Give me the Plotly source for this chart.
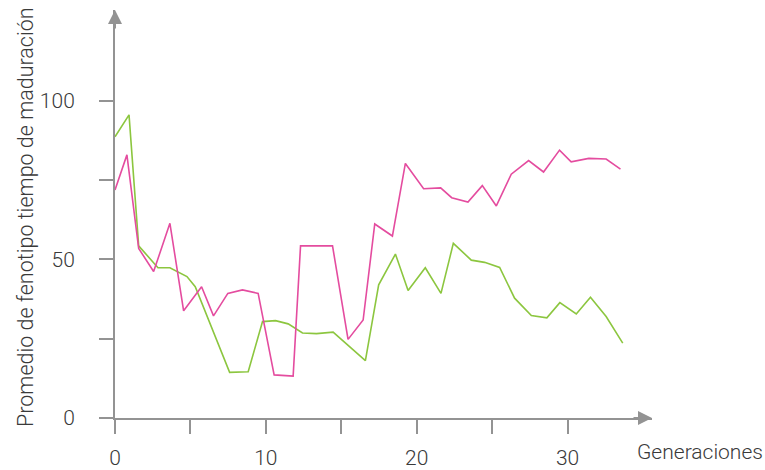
import plotly.graph_objects as go

# generaciones / promedio de fenotipo
gen_rosa = [0, 0.79, 1.57, 2.56, 3.64, 4.55, 5.74, 6.53, 7.48, 8.45, 9.49, 10.55, 11.81,
            12.3, 14.42, 15.45, 16.45, 17.22, 18.39, 19.25, 20.46, 21.59, 22.32, 23.4,
            24.35, 25.28, 26.27, 27.42, 28.41, 29.47, 30.24, 31.41, 32.56, 33.51]
val_rosa = [71.9, 83.0, 53.5, 46.2, 61.4, 33.8, 41.4, 32.2, 39.3, 40.4, 39.3, 13.6, 13.2,
            54.3, 54.3, 24.8, 30.9, 61.2, 57.4, 80.3, 72.3, 72.6, 69.5, 68.1,
            73.3, 66.9, 76.9, 81.2, 77.6, 84.5, 80.8, 81.9, 81.7, 78.5]

gen_verde = [0, 0.93, 1.57, 2.85, 3.64, 4.77, 5.32, 7.6, 8.83, 9.78, 10.64, 11.48, 12.43,
             13.36, 14.46, 16.6, 17.48, 18.59, 19.43, 20.57, 21.61, 22.43, 23.62, 24.5,
             25.5, 26.49, 27.6, 28.63, 29.49, 30.58, 31.52, 32.56, 33.66]
val_verde = [88.7, 95.6, 54.3, 47.4, 47.4, 44.6, 41.4, 14.4, 14.6, 30.4, 30.7, 29.7, 26.8,
             26.6, 27.1, 18.1, 42.0, 51.7, 40.2, 47.4, 39.3, 55.1, 49.8, 49.1,
             47.5, 37.8, 32.3, 31.6, 36.4, 32.8, 38.1, 32.0, 23.6]

x_ticks = [0, 5, 10, 15, 20, 25, 30]
x_labels = ["0", "", "10", "", "20", "", "30"]
y_ticks = [0, 25, 50, 75, 100]
y_labels = ["0", "", "50", "", "100"]

FONT = "Roboto, sans-serif"
GRIS = "#939393"
xmax, ymax = 35.6, 128.7

fig = go.Figure()
fig.add_trace(go.Scatter(x=gen_verde, y=val_verde, mode="lines",
                         line=dict(color="#8cc63f", width=1.6)))
fig.add_trace(go.Scatter(x=gen_rosa, y=val_rosa, mode="lines",
                         line=dict(color="#e44c9f", width=1.6)))

fig.update_layout(
    width=765, height=470,
    margin=dict(l=115, r=113, t=10, b=52),
    plot_bgcolor="white", paper_bgcolor="white",
    showlegend=False,
    font=dict(family=FONT, size=21, color="#3a3a3a", weight=300),
)
fig.update_xaxes(range=[0, xmax], showgrid=False, zeroline=False, automargin=False,
                 showline=True, linecolor=GRIS, linewidth=2,
                 tickmode="array", tickvals=x_ticks, ticktext=x_labels,
                 ticks="outside", ticklen=14, tickwidth=2, tickcolor=GRIS,
                 ticklabelstandoff=6)
fig.update_yaxes(range=[0, ymax], showgrid=False, zeroline=False, automargin=False,
                 showline=True, linecolor=GRIS, linewidth=2,
                 tickmode="array", tickvals=y_ticks, ticktext=y_labels,
                 ticks="outside", ticklen=14, tickwidth=2, tickcolor=GRIS,
                 ticklabelstandoff=20)

# arrow heads on the axes
fig.add_annotation(x=xmax, y=0, xref="x", yref="y", ax=-20, ay=0, text="",
                   showarrow=True, arrowhead=2, arrowsize=1.4, arrowwidth=2,
                   arrowcolor=GRIS, standoff=0)
fig.add_annotation(x=0, y=ymax, xref="x", yref="y", ax=0, ay=20, text="",
                   showarrow=True, arrowhead=2, arrowsize=1.4, arrowwidth=2,
                   arrowcolor=GRIS, standoff=0)

fig.add_annotation(text="Promedio de fenotipo tiempo de maduración", textangle=-90,
                   xref="x domain", yref="y domain", x=(25 - 115) / 537, y=(418 - 217) / 408,
                   xanchor="center", yanchor="middle", showarrow=False, font=dict(size=21.5))
fig.add_annotation(text="Generaciones", xref="x domain", yref="y domain",
                   x=(700 - 115) / 537, y=(418 - 452) / 408, xanchor="center", yanchor="middle",
                   showarrow=False, font=dict(size=21))

# page margin off so the figure sits at the window's corner
fig.write_html("out.html", config={"displayModeBar": False},
               post_script="document.body.style.margin='0';")
